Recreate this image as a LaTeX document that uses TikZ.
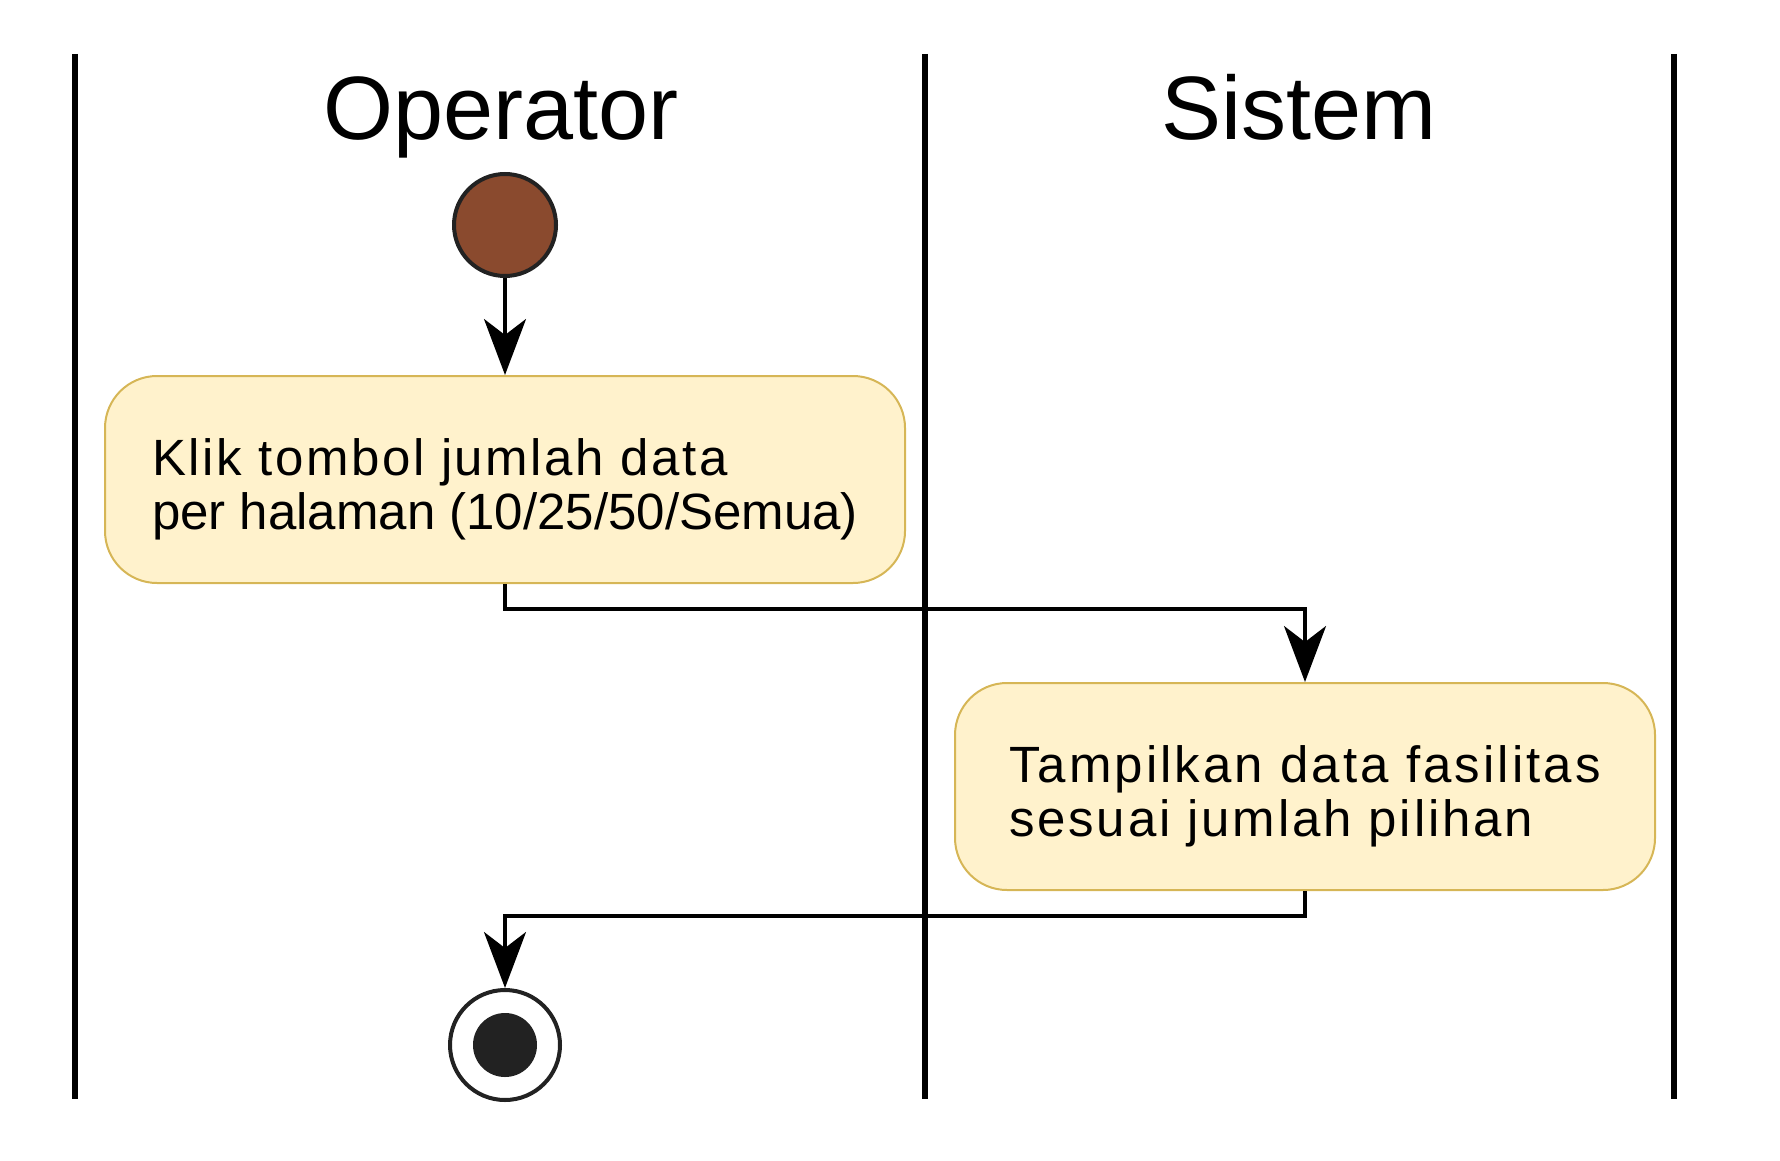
\documentclass[tikz,border=0pt]{standalone}
\usepackage{fontspec}
\setmainfont{Liberation Sans}
\usepackage{xcolor}
\usetikzlibrary{arrows.meta}

\definecolor{actfill}{HTML}{FFF2CC}
\definecolor{actline}{HTML}{D6B656}
\definecolor{startfill}{RGB}{138,74,46}
\definecolor{dotfill}{HTML}{222222}

% strut that pushes the two text lines a little down in their box
\newcommand{\actstrut}{\rule{0pt}{28pt}}
\newcommand{\spaced}[2]{{\addfontfeature{LetterSpace=#1}#2}}

\tikzset{
    lane/.style={line width=3pt},
    head/.style={anchor=base, font=\fontsize{45}{50}\selectfont},
    act/.style={draw=actline, fill=actfill, line width=1pt,
        rounded corners=26pt, minimum height=103.5pt,
        align=left, font=\fontsize{25.5}{27}\selectfont},
    flow/.style={line width=1.7pt,
        -{Stealth[length=28pt,width=21pt,inset=8pt]}}
}

\begin{document}
\begin{tikzpicture}[x=0.5pt,y=-0.5pt]
    \useasboundingbox (0,0) rectangle (1780,1160);

    % Swimlanes
    \foreach \x in {75,925,1674}
        \draw [lane] (\x,54) -- (\x,1099);
    \node [head] (operator) at (501,140) {Operator};
    \node [head] (sistem) at (1299,140) {Sistem};

    % Start
    \node [circle,draw=dotfill,fill=startfill,line width=2pt,
        inner sep=0pt,minimum size=51pt] (start) at (505,225) {};

    % Activities
    \node [act,minimum width=400pt] (klik) at (505,479.5)
        {\actstrut\spaced{5}{Klik tombol jumlah data}\\
         per halaman (10/25/50/Semua)};
    \node [act,minimum width=350pt] (tampil) at (1305,786.5)
        {\actstrut\spaced{6}{Tampilkan data fasilitas}\\
         \spaced{5.5}{sesuai jumlah pilihan}};

    % Stop
    \node [circle,draw=dotfill,line width=2pt,fill=white,
        inner sep=0pt,minimum size=55pt] (stop) at (505,1045) {};
    \node [circle,fill=dotfill,inner sep=0pt,minimum size=32pt]
        (stopdot) at (stop.center) {};

    % Flow
    \draw [flow] (start) -- (klik);
    \draw [flow] (klik.south) -- ++(0,25) -| (tampil.north);
    \draw [flow] (tampil.south) -- ++(0,25) -| (stop.north);
\end{tikzpicture}
\end{document}
